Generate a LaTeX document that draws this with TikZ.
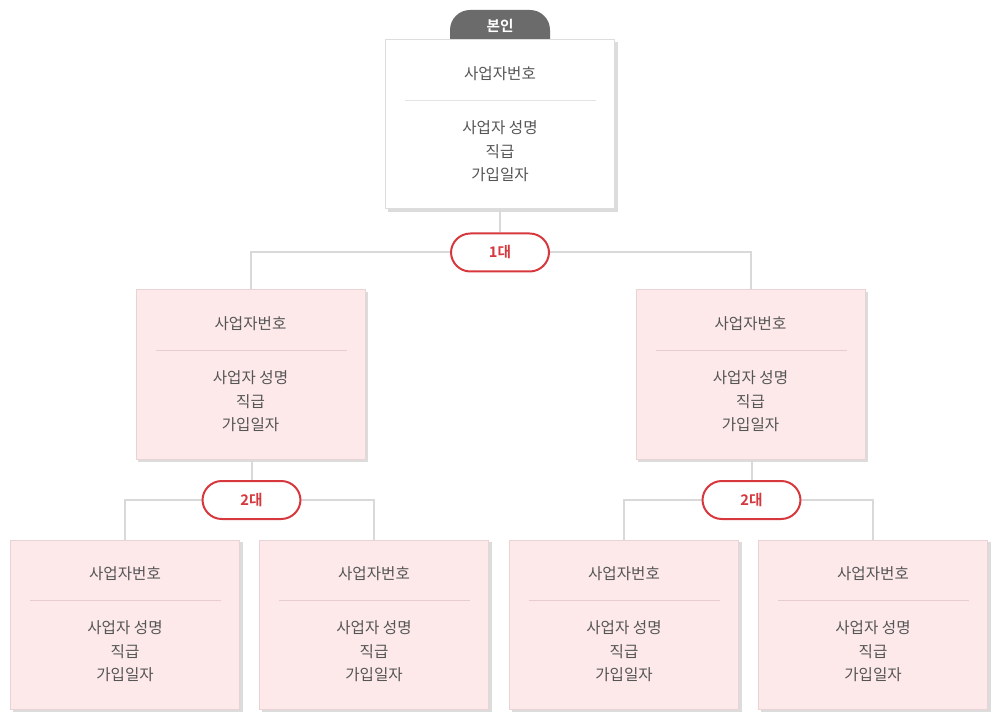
\documentclass[tikz,border=0pt]{standalone}
\usepackage{fontspec}
\setmainfont{Noto Sans CJK KR}[BoldFont={Noto Sans CJK KR Bold}]
\usetikzlibrary{calc,backgrounds}

\definecolor{cardline}{HTML}{DDDDDD}
\definecolor{cardshadow}{HTML}{DCDCDC}
\definecolor{pinkfill}{HTML}{FDE9EA}
\definecolor{pinkline}{HTML}{E9D3D4}
\definecolor{divgray}{HTML}{E3E3E3}
\definecolor{divpink}{HTML}{E8CDCF}
\definecolor{textgray}{HTML}{555555}
\definecolor{tabgray}{HTML}{6B6B6B}
\definecolor{genred}{HTML}{D6383D}
\definecolor{linkgray}{HTML}{D9D9D9}

\tikzset{
  card/.style={draw=cardline, fill=white, line width=0.75pt, inner sep=0pt,
    minimum width=171.75pt, minimum height=126.75pt},
  pinkcard/.style={card, draw=pinkline, fill=pinkfill},
  title/.style={text=textgray, inner sep=0pt, font=\fontsize{11.7pt}{17.6pt}\selectfont},
  info/.style={title, align=center},
  gen/.style={draw=genred, fill=white, line width=1.5pt, rounded corners=14.5pt,
    minimum width=73.5pt, minimum height=28.5pt, inner sep=0pt,
    text=genred, font=\fontsize{11pt}{12pt}\selectfont\bfseries},
  tabtext/.style={text=white, inner sep=0pt, font=\fontsize{11pt}{12pt}\selectfont\bfseries},
  link/.style={draw=linkgray, line width=1.5pt},
}

\begin{document}
\begin{tikzpicture}[x=0.75pt,y=0.75pt,yscale=-1,xscale=1]
\useasboundingbox (0,0) rectangle (1000,720);

%Tab above the top card
\fill[tabgray, rounded corners=15pt] (450,60) -- (450,10) -- (550,10) -- (550,60) -- cycle;

%Cards
\node[card] (self) at (500,124.5) {};
\node[pinkcard] (child a) at (250.5,374.5) {};
\node[pinkcard] (child b) at (750.5,374.5) {};
\node[pinkcard] (grand a) at (125,624.5) {};
\node[pinkcard] (grand b) at (374,624.5) {};
\node[pinkcard] (grand c) at (624,624.5) {};
\node[pinkcard] (grand d) at (873,624.5) {};

\node[tabtext] (self tab) at (500,26) {본인};

%Card texts
\foreach \c/\dc in {self/divgray, child a/divpink, child b/divpink, grand a/divpink, grand b/divpink, grand c/divpink, grand d/divpink}{
  \node[title] (\c-title) at ($(\c.north)+(0,34)$) {사업자번호};
  \draw[\dc, line width=0.75pt] ($(\c.north west)+(20,61)$) -- ($(\c.north east)+(-19,61)$);
  \node[info] (\c-info) at ($(\c.north)+(0,112)$) {사업자 성명\\직급\\가입일자};
}

%Generation labels
\node[gen] (gen one) at (500,252.5) {1대};
\node[gen] (gen two a) at (251.5,500) {2대};
\node[gen] (gen two b) at (751.5,500) {2대};

\begin{scope}[on background layer]
%Shadows
\foreach \c in {self, child a, child b, grand a, grand b, grand c, grand d}{
  \fill[cardshadow] ($(\c.north west)+(2.5,2.5)$) rectangle ($(\c.south east)+(2.5,2.5)$);
}
%Connectors
\draw[link] (self) -- (gen one);
\draw[link] (gen one) -| (child a);
\draw[link] (gen one) -| (child b);
\draw[link] (child a.south -| gen two a) -- (gen two a);
\draw[link] (child b.south -| gen two b) -- (gen two b);
\draw[link] (gen two a) -| (grand a);
\draw[link] (gen two a) -| (grand b);
\draw[link] (gen two b) -| (grand c);
\draw[link] (gen two b) -| (grand d);
\end{scope}

\end{tikzpicture}
\end{document}
